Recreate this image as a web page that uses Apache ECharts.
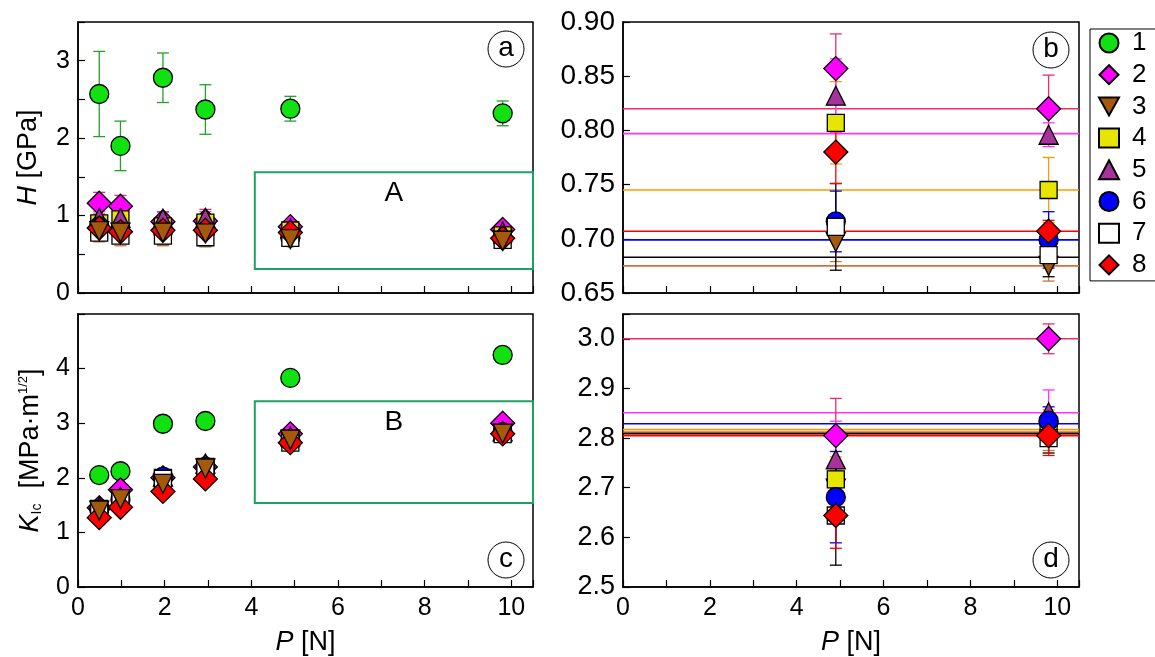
<!DOCTYPE html>
<html>
<head>
<meta charset="utf-8">
<script src="https://cdn.jsdelivr.net/npm/echarts@6/dist/echarts.min.js"></script>
<style>
  html, body { margin: 0; padding: 0; background: #fff; }
  #chart { width: 1155px; height: 657px; }
</style>
</head>
<body>
<div id="chart"></div>
<script>
// load P [N]
const P = [0.49, 0.98, 1.96, 2.94, 4.9, 9.8];
const names = ['1', '2', '3', '4', '5', '6', '7', '8'];

// hardness H [GPa], one row per sample
const H = [
    [2.57, 1.90, 2.78, 2.37, 2.38, 2.32],
    [1.16, 1.12, 0.92, 0.93, 0.857, 0.820],
    [0.80, 0.78, 0.78, 0.77, 0.697, 0.675],
    [0.90, 0.95, 0.86, 0.91, 0.807, 0.745],
    [0.97, 0.97, 0.96, 0.97, 0.832, 0.796],
    [0.86, 0.80, 0.80, 0.80, 0.716, 0.699],
    [0.78, 0.74, 0.74, 0.72, 0.711, 0.685],
    [0.84, 0.79, 0.81, 0.81, 0.780, 0.707]
];
const Herr = [
    [0.55, 0.32, 0.32, 0.32, 0.16, 0.16],
    [0.14, 0.14, 0.13, 0.15, 0.032, 0.031],
    [0.14, 0.17, 0.17, 0.17, 0.018, 0.014],
    [0.10, 0.10, 0.10, 0.10, 0.038, 0.030],
    [0.08, 0.08, 0.08, 0.08, 0.034, 0.011],
    [0.10, 0.10, 0.10, 0.10, 0.028, 0.026],
    [0.10, 0.10, 0.12, 0.12, 0.040, 0.020],
    [0.10, 0.10, 0.10, 0.10, 0.029, 0.010]
];

// fracture toughness K_Ic [MPa m^1/2]
const K = [
    [2.05, 2.12, 2.99, 3.04, 3.83, 4.25],
    [1.45, 1.78, 2.00, 2.20, 2.805, 3.000],
    [1.40, 1.61, 1.89, 2.17, 2.698, 2.810],
    [1.43, 1.62, 2.00, 2.20, 2.717, 2.822],
    [1.47, 1.65, 2.02, 2.26, 2.757, 2.852],
    [1.42, 1.60, 2.02, 2.20, 2.681, 2.835],
    [1.40, 1.58, 1.98, 2.15, 2.644, 2.800],
    [1.27, 1.46, 1.75, 1.98, 2.644, 2.805]
];
const Kerr = [
    [0.05, 0.12, 0.05, 0.05, 0.05, 0.05],
    [0.10, 0.08, 0.08, 0.10, 0.075, 0.030],
    [0.10, 0.10, 0.10, 0.10, 0.037, 0.035],
    [0.08, 0.08, 0.08, 0.08, 0.045, 0.035],
    [0.08, 0.08, 0.08, 0.08, 0.077, 0.045],
    [0.08, 0.08, 0.08, 0.08, 0.092, 0.028],
    [0.08, 0.08, 0.08, 0.08, 0.100, 0.030],
    [0.10, 0.10, 0.10, 0.10, 0.066, 0.040]
];

// horizontal reference levels in the zoomed panels (b, d)
const lineB = [null, 0.820, 0.675, 0.745, 0.797, 0.699, 0.683, 0.707];
const lineD = [null, 3.000, 2.812, 2.817, 2.851, 2.829, 2.809, 2.805];

// boxes A and B: [xMin, xMax, yMin, yMax]
const boxA = [4.08, 10.5, 0.31, 1.56];
const boxB = [4.08, 10.5, 1.54, 3.40];

const fills = ['#11E011', '#FF00FF', '#A45A0A', '#E6E600', '#A8329C', '#0000FF', '#FFFFFF', '#FF0000'];
const lineColors = ['#26A026', '#EE2A70', '#C8743A', '#FF9900', '#FF33FF', '#0000FF', '#000000', '#FF0000'];
const diamond = 'path://M0,-1L1,0L0,1L-1,0Z';
const triDown = 'path://M-1,-0.9L1,-0.9L0,0.9Z';
const symbols = ['circle', diamond, triDown, 'rect', 'triangle', 'circle', 'rect', diamond];
const symSizes = [19, 24, 19, 17, 19, 19, 17, 24];

const FONT = 'Liberation Sans, Arial, sans-serif';
const chart = echarts.init(document.getElementById('chart'));

function xAxisCfg(grid, showLabel) {
    return {
        gridIndex: grid, type: 'value', min: 0, max: 10.5, interval: 1,
        axisLine: { onZero: false, lineStyle: { color: '#000', width: 1.5 } },
        axisTick: { inside: true, length: 7, lineStyle: { color: '#000', width: 1.2 } },
        axisLabel: {
            show: showLabel, color: '#000', fontSize: 25, margin: 9, fontFamily: FONT,
            formatter: v => (Math.abs(v % 2) < 1e-6 && v <= 10) ? String(Math.round(v)) : ''
        },
        splitLine: { show: false },
        name: showLabel ? '{i|P} [N]' : '',
        nameLocation: 'middle', nameGap: 42,
        nameTextStyle: { color: '#000', fontSize: 27, fontFamily: FONT, rich: { i: { fontStyle: 'italic', fontSize: 27, fontFamily: FONT } } }
    };
}

function yAxisCfg(grid, min, max, interval, fontSize, fmt, name, gap) {
    return {
        gridIndex: grid, type: 'value', min: min, max: max, interval: interval,
        axisLine: { onZero: false, lineStyle: { color: '#000', width: 1.5 } },
        axisTick: { inside: true, length: 7, lineStyle: { color: '#000', width: 1.2 } },
        axisLabel: { color: '#000', fontSize: fontSize, margin: 8, fontFamily: FONT, formatter: fmt },
        splitLine: { show: false },
        name: name || '', nameLocation: 'middle', nameGap: gap || 40,
        nameTextStyle: {
            color: '#000', fontSize: 27, fontFamily: FONT,
            rich: {
                i: { fontStyle: 'italic', fontSize: 27, fontFamily: FONT },
                sub: { fontSize: 14, fontFamily: FONT, verticalAlign: 'bottom', lineHeight: 14, padding: [10, 0, 0, 0] },
                sup: { fontSize: 13, fontFamily: FONT, verticalAlign: 'top', lineHeight: 13, padding: [0, 0, 12, 0] }
            }
        }
    };
}

function errorRender(color) {
    return function (params, api) {
        const x = api.value(0), y = api.value(1), e = api.value(2);
        const top = api.coord([x, y + e]);
        const bot = api.coord([x, y - e]);
        const w = 6;
        const style = { stroke: color, lineWidth: 1.3 };
        return {
            type: 'group',
            children: [
                { type: 'line', shape: { x1: top[0], y1: top[1], x2: bot[0], y2: bot[1] }, style: style },
                { type: 'line', shape: { x1: top[0] - w, y1: top[1], x2: top[0] + w, y2: top[1] }, style: style },
                { type: 'line', shape: { x1: bot[0] - w, y1: bot[1], x2: bot[0] + w, y2: bot[1] }, style: style }
            ]
        };
    };
}

const series = [];
// drawing order of the samples (last on top); panels a and c have sample 3 on top
const orderFull = [0, 1, 3, 4, 5, 6, 7, 2];
const orderZoom = [1, 2, 3, 4, 5, 6, 7];
const panels = [
    { g: 0, vals: H, errs: Herr, idx: [0, 1, 2, 3, 4, 5], order: orderFull, lines: null, box: boxA, boxLabel: 'A' },
    { g: 1, vals: H, errs: Herr, idx: [4, 5], order: orderZoom, lines: lineB, box: null },
    { g: 2, vals: K, errs: Kerr, idx: [0, 1, 2, 3, 4, 5], order: orderFull, lines: null, box: boxB, boxLabel: 'B' },
    { g: 3, vals: K, errs: Kerr, idx: [4, 5], order: orderZoom, lines: lineD, box: null }
];

panels.forEach(p => {
    if (p.lines) {
        p.order.forEach(s => {
            if (p.lines[s] == null) return;
            series.push({
                type: 'line', name: 'level ' + names[s], xAxisIndex: p.g, yAxisIndex: p.g,
                data: [[0, p.lines[s]], [10.5, p.lines[s]]],
                showSymbol: false, symbol: 'none', silent: true, z: 1,
                lineStyle: { color: lineColors[s], width: 1.6 }
            });
        });
    }
    p.order.forEach(s => {
        series.push({
            type: 'custom', name: 'err ' + names[s], xAxisIndex: p.g, yAxisIndex: p.g,
            renderItem: errorRender(lineColors[s]),
            data: p.idx.map(i => [P[i], p.vals[s][i], p.errs[s][i]]),
            z: 2, clip: true, encode: { x: 0, y: 1 }, silent: true
        });
    });
    p.order.forEach((s, k) => {
        const sc = {
            type: 'scatter', name: names[s], xAxisIndex: p.g, yAxisIndex: p.g,
            data: p.idx.map(i => [P[i], p.vals[s][i]]),
            symbol: symbols[s], symbolSize: symSizes[s],
            itemStyle: { color: fills[s], borderColor: '#000', borderWidth: 1.3, opacity: 1 },
            z: 5 + k
        };
        if (p.box && s === 1) {
            sc.markArea = {
                silent: true,
                itemStyle: { color: 'rgba(0,0,0,0)', borderColor: '#1BA364', borderWidth: 2 },
                label: { show: true, position: 'insideTop', distance: 8, color: '#000', fontSize: 28, fontFamily: FONT },
                data: [[
                    { name: p.boxLabel, coord: [p.box[0], p.box[3]] },
                    { coord: [p.box[1], p.box[2]] }
                ]]
            };
        }
        series.push(sc);
    });
});

function circled(cx, cy, letter) {
    return {
        type: 'group', children: [
            { type: 'circle', shape: { cx: cx, cy: cy, r: 18 }, style: { fill: '#fff', stroke: '#000', lineWidth: 1 } },
            { type: 'text', x: cx, y: cy - 1, style: { text: letter, font: '28px ' + FONT, fill: '#000', align: 'center', verticalAlign: 'middle' } }
        ]
    };
}

const option = {
    animation: false,
    textStyle: { fontFamily: FONT },
    grid: [
        { left: 78, top: 22, width: 455, height: 271, show: true, borderColor: '#000', borderWidth: 1.5, backgroundColor: '#fff' },
        { left: 623, top: 22, width: 456, height: 271, show: true, borderColor: '#000', borderWidth: 1.5, backgroundColor: '#fff' },
        { left: 78, top: 314, width: 455, height: 273, show: true, borderColor: '#000', borderWidth: 1.5, backgroundColor: '#fff' },
        { left: 623, top: 314, width: 456, height: 273, show: true, borderColor: '#000', borderWidth: 1.5, backgroundColor: '#fff' }
    ],
    xAxis: [xAxisCfg(0, false), xAxisCfg(1, false), xAxisCfg(2, true), xAxisCfg(3, true)],
    yAxis: [
        yAxisCfg(0, 0, 3.5, 0.5, 25, v => Number.isInteger(v) ? String(v) : '', '{i|H} [GPa]', 36),
        yAxisCfg(1, 0.65, 0.9, 0.05, 28, v => v.toFixed(2)),
        yAxisCfg(2, 0, 5, 1, 25, v => v < 4.5 ? String(v) : '', '{i|K}{sub|Ic}  [MPa·m{sup|1/2}]', 34),
        yAxisCfg(3, 2.5, 3.05, 0.1, 27, v => v < 3.01 ? v.toFixed(1) : '')
    ],
    legend: {
        orient: 'vertical', left: 1090, top: 29,
        data: names,
        itemWidth: 20, itemHeight: 19, itemGap: 5.7,
        padding: [1, 10, 3, 8],
        borderColor: '#000', borderWidth: 1, backgroundColor: '#fff',
        textStyle: { color: '#000', fontSize: 26, lineHeight: 26, fontFamily: FONT, padding: [0, 0, 0, 8] }
    },
    graphic: [
        circled(506, 49, 'a'),
        circled(1051, 50, 'b'),
        circled(506, 560, 'c'),
        circled(1051, 560, 'd')
    ],
    series: series
};

chart.setOption(option);
</script>
</body>
</html>
